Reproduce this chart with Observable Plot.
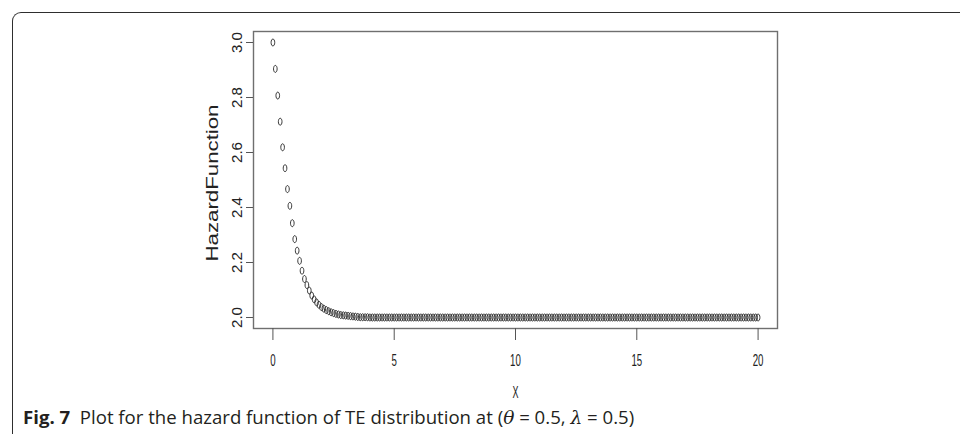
<!DOCTYPE html>
<html>
<head>
<meta charset="utf-8">
<script src="https://cdn.jsdelivr.net/npm/d3@7"></script>
<script src="https://cdn.jsdelivr.net/npm/@observablehq/plot@0.6"></script>
<style>
  html, body { margin: 0; padding: 0; background: #fff; }
  #wrap { position: relative; width: 960px; height: 434px; overflow: hidden; }
  #card { position: absolute; left: 12px; top: 12px; width: 1000px; height: 600px;
          border-top: 1.3px solid #2e2e2e; border-left: 1.3px solid #2e2e2e;
          border-top-left-radius: 9px; box-sizing: border-box; }
  #chart { position: absolute; left: 0; top: 0; }
  #caption { position: absolute; left: 23px; top: 405px; font-family: "Open Sans", "Noto Sans", sans-serif;
             font-size: 18.6px; color: #231f20; white-space: nowrap; line-height: 24px; }
  #caption b { font-weight: 700; }
  #caption i { font-family: "DejaVu Serif", "Liberation Serif", serif; }
</style>
</head>
<body>
<div id="wrap">
  <div id="card"></div>
  <div id="chart"></div>
  <div id="caption"><b>Fig. 7</b>&nbsp; Plot for the hazard function of TE distribution at (<i>θ</i> = 0.5, <i>λ</i> = 0.5)</div>
</div>
<script>
// x grid (step 0.1 from 0 to 20)
const xValues = [
  0,0.1,0.2,0.3,0.4,0.5,0.6,0.7,0.8,0.9,
  1,1.1,1.2,1.3,1.4,1.5,1.6,1.7,1.8,1.9,
  2,2.1,2.2,2.3,2.4,2.5,2.6,2.7,2.8,2.9,
  3,3.1,3.2,3.3,3.4,3.5,3.6,3.7,3.8,3.9,
  4,4.1,4.2,4.3,4.4,4.5,4.6,4.7,4.8,4.9,
  5,5.1,5.2,5.3,5.4,5.5,5.6,5.7,5.8,5.9,
  6,6.1,6.2,6.3,6.4,6.5,6.6,6.7,6.8,6.9,
  7,7.1,7.2,7.3,7.4,7.5,7.6,7.7,7.8,7.9,
  8,8.1,8.2,8.3,8.4,8.5,8.6,8.7,8.8,8.9,
  9,9.1,9.2,9.3,9.4,9.5,9.6,9.7,9.8,9.9,
  10,10.1,10.2,10.3,10.4,10.5,10.6,10.7,10.8,10.9,
  11,11.1,11.2,11.3,11.4,11.5,11.6,11.7,11.8,11.9,
  12,12.1,12.2,12.3,12.4,12.5,12.6,12.7,12.8,12.9,
  13,13.1,13.2,13.3,13.4,13.5,13.6,13.7,13.8,13.9,
  14,14.1,14.2,14.3,14.4,14.5,14.6,14.7,14.8,14.9,
  15,15.1,15.2,15.3,15.4,15.5,15.6,15.7,15.8,15.9,
  16,16.1,16.2,16.3,16.4,16.5,16.6,16.7,16.8,16.9,
  17,17.1,17.2,17.3,17.4,17.5,17.6,17.7,17.8,17.9,
  18,18.1,18.2,18.3,18.4,18.5,18.6,18.7,18.8,18.9,
  19,19.1,19.2,19.3,19.4,19.5,19.6,19.7,19.8,19.9,
  20
];
// hazard values
const hazardValues = [
  3.000,2.904,2.807,2.712,2.619,2.543,2.467,2.406,2.343,2.285,
  2.243,2.206,2.170,2.140,2.118,2.098,2.080,2.066,2.055,2.046,
  2.038,2.032,2.027,2.023,2.019,2.016,2.013,2.011,2.009,2.008,
  2.007,2.006,2.005,2.004,2.003,2.002,2.001,2.001,2.001,2.001,
  2.000,2.000,2.000,2.000,2.000,2.000,2.000,2.000,2.000,2.000,
  2.000,2.000,2.000,2.000,2.000,2.000,2.000,2.000,2.000,2.000,
  2.000,2.000,2.000,2.000,2.000,2.000,2.000,2.000,2.000,2.000,
  2.000,2.000,2.000,2.000,2.000,2.000,2.000,2.000,2.000,2.000,
  2.000,2.000,2.000,2.000,2.000,2.000,2.000,2.000,2.000,2.000,
  2.000,2.000,2.000,2.000,2.000,2.000,2.000,2.000,2.000,2.000,
  2.000,2.000,2.000,2.000,2.000,2.000,2.000,2.000,2.000,2.000,
  2.000,2.000,2.000,2.000,2.000,2.000,2.000,2.000,2.000,2.000,
  2.000,2.000,2.000,2.000,2.000,2.000,2.000,2.000,2.000,2.000,
  2.000,2.000,2.000,2.000,2.000,2.000,2.000,2.000,2.000,2.000,
  2.000,2.000,2.000,2.000,2.000,2.000,2.000,2.000,2.000,2.000,
  2.000,2.000,2.000,2.000,2.000,2.000,2.000,2.000,2.000,2.000,
  2.000,2.000,2.000,2.000,2.000,2.000,2.000,2.000,2.000,2.000,
  2.000,2.000,2.000,2.000,2.000,2.000,2.000,2.000,2.000,2.000,
  2.000,2.000,2.000,2.000,2.000,2.000,2.000,2.000,2.000,2.000,
  2.000,2.000,2.000,2.000,2.000,2.000,2.000,2.000,2.000,2.000,
  2.000
];
const xTicks = [0, 5, 10, 15, 20];
const yTicks = [2.0, 2.2, 2.4, 2.6, 2.8, 3.0];
const xLabel = "X";
const yLabel = "HazardFunction";

const data = xValues.map((x, i) => ({x, h: hazardValues[i]}));

// open ellipse symbol (the printed figure is squeezed horizontally)
const ellipseSymbol = {
  draw(ctx, size) {
    const r = Math.sqrt(size / Math.PI);
    const ry = r, rx = r * 0.52, k = 0.5523;
    ctx.moveTo(rx, 0);
    ctx.bezierCurveTo(rx, ry * k, rx * k, ry, 0, ry);
    ctx.bezierCurveTo(-rx * k, ry, -rx, ry * k, -rx, 0);
    ctx.bezierCurveTo(-rx, -ry * k, -rx * k, -ry, 0, -ry);
    ctx.bezierCurveTo(rx * k, -ry, rx, -ry * k, rx, 0);
    ctx.closePath();
  }
};

const font = "'Liberation Sans', Arial, Helvetica, sans-serif";

const chart = Plot.plot({
  width: 960,
  height: 405,
  marginLeft: 253,
  marginRight: 183,
  marginTop: 31,
  marginBottom: 77,
  style: {fontFamily: font, color: "#222", background: "transparent", overflow: "visible"},
  x: {domain: [-0.8, 20.8], axis: null},
  y: {domain: [1.96, 3.04], axis: null},
  marks: [
    Plot.frame({stroke: "#6f6f6f", strokeWidth: 1.4}),
    Plot.axisX({ticks: xTicks, tickSize: 12, tickPadding: 13, fontSize: 17, stroke: "#555",
                tickFormat: d => String(d), label: null}),
    Plot.axisY({ticks: yTicks, tickSize: 7, stroke: "#555", tickFormat: () => "", label: null}),
    Plot.text(yTicks, {y: d => d, frameAnchor: "left", dx: -16, rotate: -90, text: d => d.toFixed(1),
                       fontSize: 14, textAnchor: "middle", lineAnchor: "middle", fill: "#222"}),
    Plot.text([yLabel], {frameAnchor: "left", dx: -41, dy: 3, rotate: -90, text: d => d,
                         fontSize: 16, textAnchor: "middle", lineAnchor: "middle", fill: "#222"}),
    Plot.text([xLabel], {frameAnchor: "bottom", dy: 64, text: d => d,
                         fontSize: 16, textAnchor: "middle", lineAnchor: "middle", fill: "#222"}),
    Plot.dot(data, {x: "x", y: "h", symbol: ellipseSymbol, r: 3.5, stroke: "#222",
                    strokeWidth: 0.9, fill: "none"})
  ]
});
document.getElementById("chart").appendChild(chart);

// squeeze texts like the horizontally compressed printed figure
chart.querySelectorAll("text").forEach(t => {
  const s = t.textContent;
  let len = null;
  if (s === yLabel) len = 157;
  else if (/^\d\.\d$/.test(s)) len = 21;
  else if (s === xLabel) len = 6;
  else if (/^\d+$/.test(s)) len = 5.4 * s.length;
  if (len) { t.setAttribute("textLength", len); t.setAttribute("lengthAdjust", "spacingAndGlyphs"); }
});
</script>
</body>
</html>
